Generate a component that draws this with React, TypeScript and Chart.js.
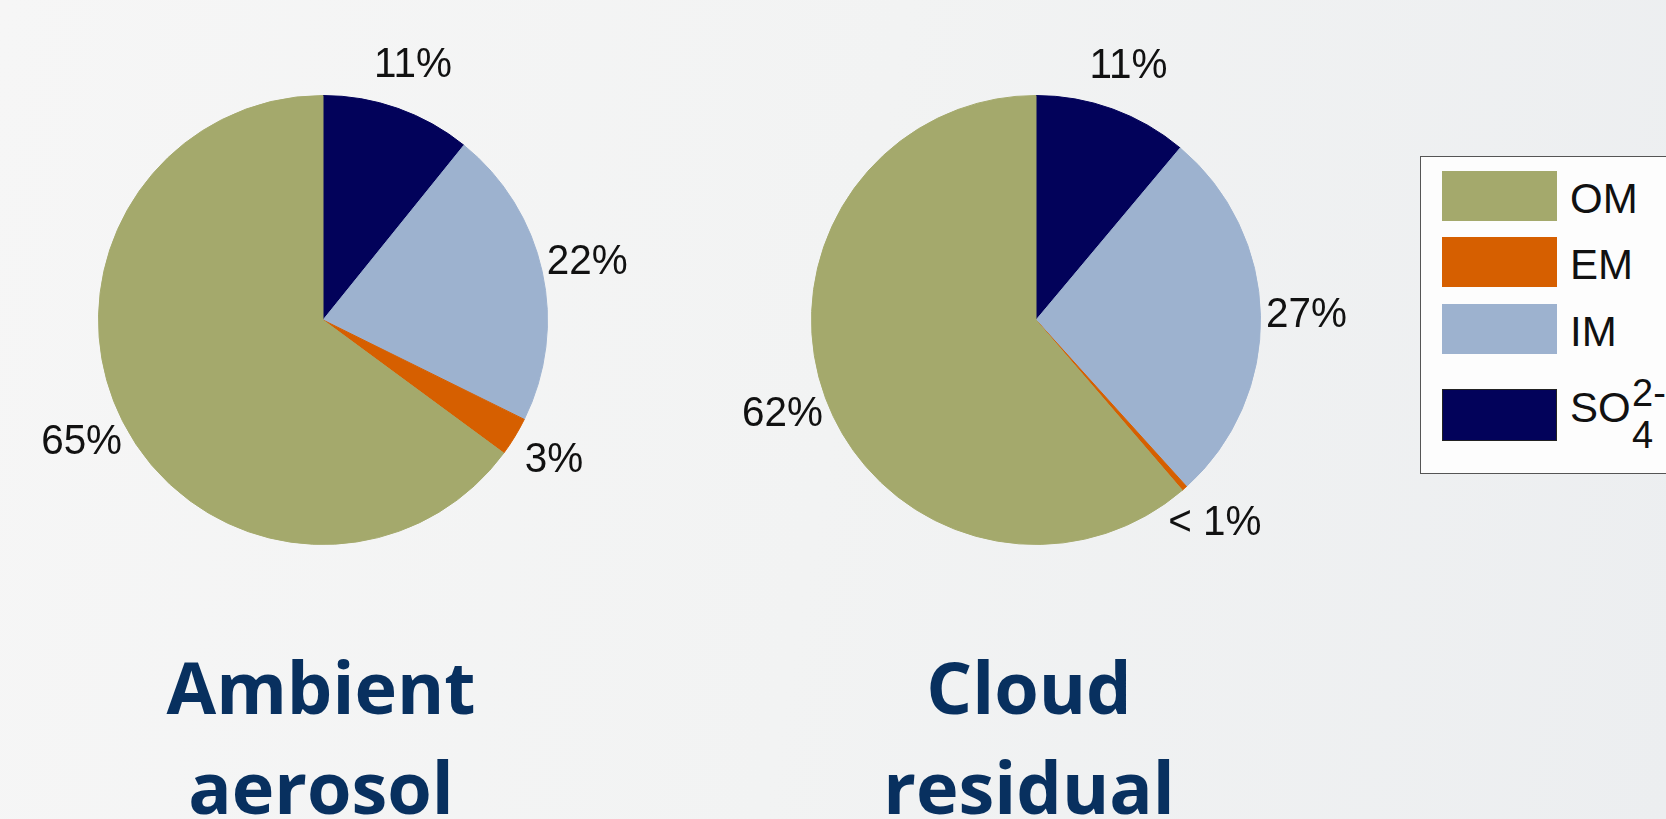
import React, { useEffect, useRef } from "react";
import { Chart, registerables } from "chart.js";

Chart.register(...registerables);

// Legend order
const categories = ["OM", "EM", "IM", "SO4"];
const colors = ["#a4a96c", "#d65f00", "#9db2cf", "#02025a"];

// Values (share of total, %), in legend order
const ambientValues = [64.9, 2.8, 21.5, 10.8];
const ambientLabels = ["65%", "3%", "22%", "11%"];
const cloudValues = [61.3, 0.4, 27.2, 11.1];
const cloudLabels = ["62%", "< 1%", "27%", "11%"];

const titles = [["Ambient", "aerosol"], ["Cloud", "residual"]];

const labelPlugin = {
  id: "outerLabels",
  afterDatasetsDraw(chart: any) {
    const labels: string[] = chart.options.plugins.outerLabels.labels;
    const meta = chart.getDatasetMeta(0);
    const ctx = chart.ctx;
    ctx.save();
    ctx.font = "43px 'Liberation Sans', Arial, sans-serif";
    ctx.fillStyle = "#111111";
    ctx.textAlign = "center";
    ctx.textBaseline = "middle";
    meta.data.forEach((arc: any, i: number) => {
      const p = arc.getProps(["x", "y", "startAngle", "endAngle", "outerRadius"], true);
      const mid = (p.startAngle + p.endAngle) / 2;
      const r = p.outerRadius + 46;
      const x = p.x + Math.cos(mid) * r;
      const y = p.y + Math.sin(mid) * r;
      ctx.save();
      ctx.translate(x, y);
      ctx.scale(0.94, 1);
      ctx.fillText(labels[i], 0, 0);
      ctx.restore();
    });
    ctx.restore();
  },
};

function makePie(canvas: HTMLCanvasElement, values: number[], labels: string[]) {
  // draw clockwise from the top in reverse legend order (SO4, IM, EM, OM)
  const order = [...categories.keys()].reverse();
  return new Chart(canvas, {
    type: "pie",
    data: {
      labels: order.map((i) => categories[i]),
      datasets: [
        {
          data: order.map((i) => values[i]),
          backgroundColor: order.map((i) => colors[i]),
          borderColor: order.map((i) => colors[i]),
          borderWidth: 1,
        },
      ],
    },
    options: {
      animation: false,
      responsive: false,
      devicePixelRatio: 1,
      layout: { padding: { left: 98, right: 98, top: 95, bottom: 95 } },
      plugins: {
        legend: { display: false },
        tooltip: { enabled: false },
        outerLabels: { labels: order.map((i) => labels[i]) },
      } as any,
    },
    plugins: [labelPlugin],
  });
}

export default function App() {
  const leftRef = useRef<HTMLCanvasElement>(null);
  const rightRef = useRef<HTMLCanvasElement>(null);

  useEffect(() => {
    const a = makePie(leftRef.current!, ambientValues, ambientLabels);
    const b = makePie(rightRef.current!, cloudValues, cloudLabels);
    return () => {
      a.destroy();
      b.destroy();
    };
  }, []);

  const legendFont = "'Liberation Sans', Arial, sans-serif";
  const swatchTops = [171, 237, 304, 389];
  const swatchHeights = [50, 50, 50, 52];
  const textTops = [178, 244, 311, 387];

  return (
    <div
      style={{
        position: "absolute",
        left: 0,
        top: 0,
        width: 1666,
        height: 819,
        overflow: "hidden",
        background: "linear-gradient(100deg, #f6f6f6 0%, #f2f3f3 50%, #eceef0 100%)",
      }}
    >
      <canvas ref={leftRef} width={646} height={640} style={{ position: "absolute", left: 0, top: 0 }} />
      <canvas ref={rightRef} width={646} height={640} style={{ position: "absolute", left: 713, top: 0 }} />

      {titles.map((lines, k) => (
        <div
          key={k}
          style={{
            position: "absolute",
            left: (k === 0 ? 321 : 1029) - 300,
            top: 636,
            width: 600,
            textAlign: "center",
            fontFamily: "'Open Sans', sans-serif",
            fontWeight: 700,
            fontSize: 72,
            lineHeight: "100px",
            color: "#08305f",
          }}
        >
          {lines.map((l, j) => (
            <div key={j}>{l}</div>
          ))}
        </div>
      ))}

      <div
        style={{
          position: "absolute",
          left: 1420,
          top: 156,
          width: 300,
          height: 316,
          border: "1.5px solid #555",
          background: "#fdfdfd",
        }}
      />
      {categories.map((c, i) => (
        <React.Fragment key={c}>
          <div
            style={{
              position: "absolute",
              left: 1442,
              top: swatchTops[i],
              width: 115,
              height: swatchHeights[i],
              background: colors[i],
              boxSizing: "border-box",
              border: i === 3 ? "1px solid #222" : "none",
            }}
          />
          {c === "SO4" ? (
            <div style={{ position: "absolute", left: 1570, top: textTops[i], fontFamily: legendFont, fontSize: 42, lineHeight: "42px", color: "#111" }}>
              SO
              <span style={{ position: "absolute", left: 62, top: -15, fontSize: 38, lineHeight: "42px" }}>2-</span>
              <span style={{ position: "absolute", left: 62, top: 27, fontSize: 38, lineHeight: "42px" }}>4</span>
            </div>
          ) : (
            <div style={{ position: "absolute", left: 1570, top: textTops[i], fontFamily: legendFont, fontSize: 42, lineHeight: "42px", color: "#111" }}>
              {c}
            </div>
          )}
        </React.Fragment>
      ))}
    </div>
  );
}
